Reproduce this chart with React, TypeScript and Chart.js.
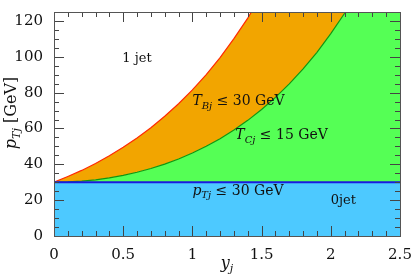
import React, { useEffect, useRef } from "react";
import { Chart, registerables } from "chart.js";

Chart.register(...registerables);

const rapidity = [0, 0.1, 0.2, 0.3, 0.4, 0.5, 0.6, 0.7, 0.8, 0.9, 1.0, 1.1, 1.2, 1.3, 1.4, 1.5, 1.6, 1.7, 1.8, 1.9, 2.0, 2.1, 2.2, 2.3, 2.4, 2.5];
const tauBBoundary = [30.0, 33.2, 36.6, 40.5, 44.8, 49.5, 54.7, 60.4, 66.8, 73.8, 81.5, 90.1, 99.6, 110.1, 121.6, 134.5, 148.6, 164.2, 181.5, 200.6, 221.7, 245.0, 270.8, 299.2, 330.7, 365.5];
const tauCBoundary = [30.0, 30.15, 30.6, 31.36, 32.43, 33.83, 35.56, 37.65, 40.12, 42.99, 46.29, 50.06, 54.32, 59.13, 64.53, 70.57, 77.33, 84.85, 93.23, 102.5, 112.9, 124.3, 137.0, 151.1, 166.7, 184.0];
const ptCut = [30, 30, 30, 30, 30, 30, 30, 30, 30, 30, 30, 30, 30, 30, 30, 30, 30, 30, 30, 30, 30, 30, 30, 30, 30, 30];

const xMajorTicks = [0, 0.5, 1, 1.5, 2, 2.5];
const xMinorTicks = [0.1, 0.2, 0.3, 0.4, 0.6, 0.7, 0.8, 0.9, 1.1, 1.2, 1.3, 1.4, 1.6, 1.7, 1.8, 1.9, 2.1, 2.2, 2.3, 2.4];
const yMajorTicks = [0, 20, 40, 60, 80, 100, 120];
const yMinorTicks = [5, 10, 15, 25, 30, 35, 45, 50, 55, 65, 70, 75, 85, 90, 95, 105, 110, 115];
const xTickLabels = ["0", "0.5", "1", "1.5", "2", "2.5"];
const yTickLabels = ["0", "20", "40", "60", "80", "100", "120"];

const SERIF = "'DejaVu Serif', 'Liberation Serif', serif";

type Part = { t: string; it?: boolean; sub?: boolean };

function drawRich(ctx: CanvasRenderingContext2D, parts: Part[], x: number, y: number, size: number, align: "left" | "center" = "left") {
  const fontFor = (p: Part) => `${p.it ? "italic " : ""}${p.sub ? Math.round(size * 0.7) : size}px ${SERIF}`;
  let total = 0;
  for (const p of parts) {
    ctx.font = fontFor(p);
    total += ctx.measureText(p.t).width;
  }
  let cx = align === "center" ? x - total / 2 : x;
  ctx.textBaseline = "alphabetic";
  ctx.textAlign = "left";
  for (const p of parts) {
    ctx.font = fontFor(p);
    ctx.fillText(p.t, cx, y + (p.sub ? size * 0.25 : 0));
    cx += ctx.measureText(p.t).width;
  }
}

const overlay = {
  id: "overlay",
  afterDatasetsDraw(chart: any) {
    const ctx: CanvasRenderingContext2D = chart.ctx;
    const { left, right, top, bottom } = chart.chartArea;
    const xs = chart.scales.x;
    const ys = chart.scales.y;
    ctx.save();
    ctx.strokeStyle = "#444";
    ctx.lineWidth = 1;
    ctx.beginPath();
    const tick = (vals: number[], len: number) => {
      for (const v of vals) {
        const px = Math.round(xs.getPixelForValue(v)) + 0.5;
        ctx.moveTo(px, bottom);
        ctx.lineTo(px, bottom - len);
        ctx.moveTo(px, top);
        ctx.lineTo(px, top + len);
      }
    };
    const ytick = (vals: number[], len: number) => {
      for (const v of vals) {
        const py = Math.round(ys.getPixelForValue(v)) + 0.5;
        ctx.moveTo(left, py);
        ctx.lineTo(left + len, py);
        ctx.moveTo(right, py);
        ctx.lineTo(right - len, py);
      }
    };
    tick(xMajorTicks, 10);
    tick(xMinorTicks, 5);
    ytick(yMajorTicks, 10);
    ytick(yMinorTicks, 5);
    ctx.stroke();
    ctx.strokeStyle = "#555";
    ctx.strokeRect(Math.round(left) + 0.5, Math.round(top) + 0.5, Math.round(right - left), Math.round(bottom - top));

    ctx.fillStyle = "#111";
    const P = (x: number, y: number) => [xs.getPixelForValue(x), ys.getPixelForValue(y)];
    let [a, b] = P(0.6, 97);
    drawRich(ctx, [{ t: "1 jet" }], a, b, 13, "center");
    [a, b] = P(1.0, 73);
    drawRich(ctx, [{ t: "T", it: true }, { t: "Bj", it: true, sub: true }, { t: " ≤ 30 GeV" }], a, b, 14);
    [a, b] = P(1.31, 54);
    drawRich(ctx, [{ t: "T", it: true }, { t: "Cj", it: true, sub: true }, { t: " ≤ 15 GeV" }], a, b, 14);
    [a, b] = P(1.0, 23);
    drawRich(ctx, [{ t: "p", it: true }, { t: "Tj", it: true, sub: true }, { t: " ≤ 30 GeV" }], a, b, 14);
    [a, b] = P(2.09, 18);
    drawRich(ctx, [{ t: "0jet" }], a, b, 13, "center");

    // axis titles
    drawRich(ctx, [{ t: "y", it: true }, { t: "j", it: true, sub: true }], (left + right) / 2, 268, 16, "center");
    ctx.save();
    ctx.translate(16, 113);
    ctx.rotate(-Math.PI / 2);
    drawRich(ctx, [{ t: "p", it: true }, { t: "Tj", it: true, sub: true }, { t: " [GeV]" }], 0, 0, 16, "center");
    ctx.restore();
    ctx.restore();
  },
};

export default function App() {
  const ref = useRef<HTMLCanvasElement>(null);
  useEffect(() => {
    document.body.style.margin = "0";
    const pts = (ys: number[]) => ys.map((v, i) => ({ x: rapidity[i], y: v }));
    const chart = new Chart(ref.current!, {
      type: "line",
      data: {
        datasets: [
          { data: pts(tauBBoundary), borderColor: "#ff2a00", borderWidth: 1.2, backgroundColor: "#f2a500", fill: "+1", pointRadius: 0, tension: 0, order: 2 },
          { data: pts(tauCBoundary), borderColor: "#11960f", borderWidth: 1.2, backgroundColor: "#55ff55", fill: "+1", pointRadius: 0, tension: 0, order: 1 },
          { data: pts(ptCut), borderColor: "#1a1ae0", borderWidth: 2, backgroundColor: "#4dc9ff", fill: "origin", pointRadius: 0, tension: 0, order: 0 },
        ],
      },
      options: {
        responsive: false,
        animation: false,
        events: [],
        layout: { padding: { top: 5, right: 15, left: 0, bottom: 0 } },
        plugins: {
          legend: { display: false },
          tooltip: { enabled: false },
          filler: { drawTime: "beforeDatasetsDraw" },
        } as any,
        scales: {
          x: {
            type: "linear",
            min: 0,
            max: 2.5,
            grid: { display: false },
            border: { display: false },
            afterBuildTicks: (s: any) => {
              s.ticks = xMajorTicks.map((v) => ({ value: v }));
            },
            afterFit: (s: any) => {
              s.height = 44;
            },
            ticks: {
              padding: 2,
              maxRotation: 0,
              color: "#111",
              font: { family: SERIF, size: 15 },
              callback: (v: any) => xTickLabels[xMajorTicks.indexOf(Number(v))] ?? "",
            },
          },
          y: {
            type: "linear",
            min: 0,
            max: 125,
            grid: { display: false },
            border: { display: false },
            afterBuildTicks: (s: any) => {
              s.ticks = yMajorTicks.map((v) => ({ value: v }));
            },
            afterFit: (s: any) => {
              s.width = 54;
            },
            ticks: {
              padding: 3,
              color: "#111",
              font: { family: SERIF, size: 15 },
              callback: (v: any) => yTickLabels[yMajorTicks.indexOf(Number(v))] ?? "",
            },
          },
        },
      },
      plugins: [overlay],
    });
    return () => chart.destroy();
  }, []);
  return (
    <div style={{ position: "absolute", left: 0, top: 0, width: 415, height: 280 }}>
      <canvas ref={ref} width={415} height={280} />
    </div>
  );
}
